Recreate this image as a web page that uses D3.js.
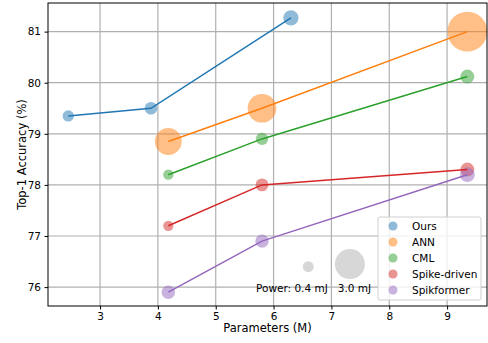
<!DOCTYPE html>
<html>
<head>
<meta charset="utf-8">
<script src="https://cdn.jsdelivr.net/npm/d3@7"></script>
<style>
  body { margin: 0; background: #fff; }
  text { font-family: "DejaVu Sans", sans-serif; fill: #000; }
</style>
</head>
<body>
<script>
const params = [4.18, 5.8, 9.35];
const oursParams = [2.45, 3.88, 6.3];

const ours = [79.35, 79.5, 81.27];
const ann = [78.85, 79.5, 81.0];
const cml = [78.2, 78.9, 80.12];
const spikeDriven = [77.2, 78.0, 78.3];
const spikformer = [75.9, 76.9, 78.2];

const oursPower = [0.43, 0.53, 0.78];
const annPower = [2.4, 2.75, 5.3];
const cmlPower = [0.35, 0.5, 0.65];
const spikePower = [0.35, 0.55, 0.65];
const spikformerPower = [0.6, 0.6, 0.72];

const xTicks = [3, 4, 5, 6, 7, 8, 9];
const yTicks = [76, 77, 78, 79, 80, 81];

const powerRef = [0.4, 3.0];
const powerRefX = [6.6, 7.32];
const powerRefY = [76.4, 76.45];

const names = ['Ours', 'ANN', 'CML', 'Spike-driven', 'Spikformer'];
const colors = ['#1f77b4', '#ff7f0e', '#2ca02c', '#d62728', '#9467bd'];

const series = [
  { name: names[0], x: oursParams, y: ours, p: oursPower },
  { name: names[1], x: params, y: ann, p: annPower },
  { name: names[2], x: params, y: cml, p: cmlPower },
  { name: names[3], x: params, y: spikeDriven, p: spikePower },
  { name: names[4], x: params, y: spikformer, p: spikformerPower }
];

const width = 488;
const height = 343;
const margin = { top: 3, right: 1, bottom: 37, left: 48 };

const svg = d3.select('body').append('svg')
  .attr('width', width)
  .attr('height', height);

const x = d3.scaleLinear()
  .domain([2.1, 9.69])
  .range([margin.left, width - margin.right]);
const y = d3.scaleLinear()
  .domain([75.63, 81.56])
  .range([height - margin.bottom, margin.top]);
const r = d3.scaleSqrt()
  .domain([0, 3])
  .range([0, 15]);

// grid
svg.append('g')
  .selectAll('line')
  .data(xTicks)
  .join('line')
  .attr('x1', d => x(d)).attr('x2', d => x(d))
  .attr('y1', margin.top).attr('y2', height - margin.bottom)
  .attr('stroke', '#b0b0b0').attr('stroke-width', 1.2);
svg.append('g')
  .selectAll('line')
  .data(yTicks)
  .join('line')
  .attr('y1', d => y(d)).attr('y2', d => y(d))
  .attr('x1', margin.left).attr('x2', width - margin.right)
  .attr('stroke', '#b0b0b0').attr('stroke-width', 1.2);

// markers
series.forEach((s, i) => {
  svg.append('g')
    .selectAll('circle')
    .data(s.x.map((d, j) => ({ x: d, y: s.y[j], p: s.p[j] })))
    .join('circle')
    .attr('cx', d => x(d.x))
    .attr('cy', d => y(d.y))
    .attr('r', d => r(d.p))
    .attr('fill', colors[i])
    .attr('fill-opacity', 0.5);
});

// lines
const line = d3.line().x(d => x(d[0])).y(d => y(d[1]));
series.forEach((s, i) => {
  svg.append('path')
    .datum(s.x.map((d, j) => [d, s.y[j]]))
    .attr('d', line)
    .attr('fill', 'none')
    .attr('stroke', colors[i])
    .attr('stroke-width', 1.5);
});

// power reference
svg.append('g')
  .selectAll('circle')
  .data(powerRef)
  .join('circle')
  .attr('cx', (d, i) => x(powerRefX[i]))
  .attr('cy', (d, i) => y(powerRefY[i]))
  .attr('r', d => r(d))
  .attr('fill', '#b0b0b0')
  .attr('fill-opacity', 0.5);
svg.append('text')
  .attr('x', 256)
  .attr('y', 292)
  .attr('font-size', 10.5)
  .attr('xml:space', 'preserve')
  .text('Power: 0.4 mJ   3.0 mJ');

// axes
const xAxis = svg.append('g')
  .attr('transform', `translate(0,${height - margin.bottom})`)
  .call(d3.axisBottom(x).tickValues(xTicks).tickFormat(d3.format('d')).tickSize(3.5).tickPadding(3.5));
const yAxis = svg.append('g')
  .attr('transform', `translate(${margin.left},0)`)
  .call(d3.axisLeft(y).tickValues(yTicks).tickFormat(d3.format('d')).tickSize(3.5).tickPadding(3.5));
[xAxis, yAxis].forEach(a => {
  a.select('.domain').remove();
  a.selectAll('text').attr('font-size', 10.5).attr('font-family', 'DejaVu Sans');
});

svg.append('rect')
  .attr('x', margin.left).attr('y', margin.top)
  .attr('width', width - margin.left - margin.right)
  .attr('height', height - margin.top - margin.bottom)
  .attr('fill', 'none')
  .attr('stroke', '#000').attr('stroke-width', 1);

svg.append('text')
  .attr('x', (margin.left + width - margin.right) / 2)
  .attr('y', 332)
  .attr('text-anchor', 'middle')
  .attr('font-size', 11.5)
  .text('Parameters (M)');
svg.append('text')
  .attr('transform', `translate(22,${(margin.top + height - margin.bottom) / 2}) rotate(-90)`)
  .attr('text-anchor', 'middle')
  .attr('dy', '0.35em')
  .attr('font-size', 11.5)
  .text('Top-1 Accuracy (%)');

// legend
const legend = svg.append('g').attr('transform', 'translate(378,217)');
legend.append('rect')
  .attr('width', 103).attr('height', 83)
  .attr('rx', 2)
  .attr('fill', '#fff').attr('fill-opacity', 0.8)
  .attr('stroke', '#d0d0d0');
const item = legend.selectAll('g.item')
  .data(names)
  .join('g')
  .attr('class', 'item')
  .attr('transform', (d, i) => `translate(0,${9 + i * 16})`);
item.append('circle')
  .attr('cx', 15).attr('r', 4.5)
  .attr('fill', (d, i) => colors[i])
  .attr('fill-opacity', 0.5);
item.append('text')
  .attr('x', 34).attr('dy', '0.35em')
  .attr('font-size', 10.5)
  .text(d => d);
</script>
</body>
</html>
